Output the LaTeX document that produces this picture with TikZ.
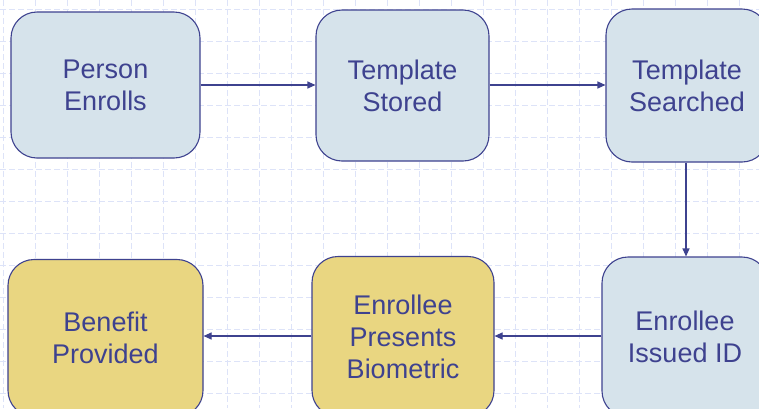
\documentclass[tikz,border=0pt]{standalone}
\usepackage{fontspec}
\setmainfont{Liberation Sans}
\usetikzlibrary{arrows.meta}
\definecolor{gridblue}{HTML}{DDE3F8}
\definecolor{inkblue}{HTML}{3E428F}
\definecolor{paleblue}{HTML}{D6E3EB}
\definecolor{paleyellow}{HTML}{E9D681}
\tikzset{
  stage/.style={draw=inkblue, line width=1.1pt, rounded corners=26pt,
    text=inkblue, align=center, inner sep=0pt,
    font=\fontsize{27}{32}\selectfont},
  bluestage/.style={stage, fill=paleblue},
  goldstage/.style={stage, fill=paleyellow},
  flow/.style={draw=inkblue, line width=1.1pt,
    -{Triangle[length=8pt, width=7pt]}},
}
\begin{document}
\begin{tikzpicture}[x=1pt, y=-1pt]
  \useasboundingbox (0,0) rectangle (759,408);
  \clip (0,0) rectangle (759,408);
  \fill[white] (0,0) rectangle (759,408);
  % dashed background grid
  \foreach \gx in {3,35,...,771}
    \draw[gridblue, line width=0.9pt, dash pattern=on 6pt off 3pt] (\gx,0) -- (\gx,408);
  \foreach \gy in {9,41,...,420}
    \draw[gridblue, line width=0.9pt, dash pattern=on 6pt off 3pt] (0,\gy) -- (759,\gy);

  % top row
  \node[bluestage, minimum width=189pt, minimum height=146pt] (enroll) at (105.5,85) {Person\\Enrolls};
  \node[bluestage, minimum width=173pt, minimum height=151pt] (stored) at (402.5,85.5) {Template\\Stored};
  \node[bluestage, minimum width=162pt, minimum height=153pt] (searched) at (687,85.5) {Template\\Searched};
  % bottom row
  \node[bluestage, minimum width=166pt, minimum height=160pt] (issued) at (685,337) {Enrollee\\Issued ID};
  \node[goldstage, minimum width=182pt, minimum height=160pt] (presents) at (403,336.5) {Enrollee\\Presents\\Biometric};
  \node[goldstage, minimum width=195pt, minimum height=157pt] (benefit) at (105.5,338) {Benefit\\Provided};

  % connectors
  \draw[flow] (enroll.east |- 0,85) -- (stored.west |- 0,85);
  \draw[flow] (stored.east |- 0,85) -- (searched.west |- 0,85);
  \draw[flow] (searched.south -| 686,0) -- (issued.north -| 686,0);
  \draw[flow] (issued.west |- 0,336) -- (presents.east |- 0,336);
  \draw[flow] (presents.west |- 0,336) -- (benefit.east |- 0,336);
\end{tikzpicture}
\end{document}
